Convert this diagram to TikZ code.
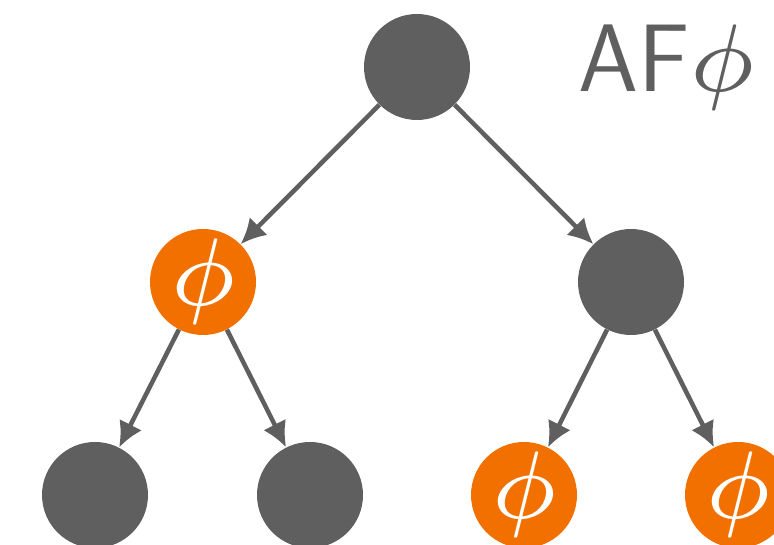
\documentclass[tikz,border=0pt]{standalone}
\DeclareFontShape{OML}{cmm}{m}{it}{<->cmmi7}{\skewchar\font'177}
\usetikzlibrary{arrows.meta}
\definecolor{ink}{HTML}{5F5F5F}
\definecolor{mark}{HTML}{F27000}
\tikzset{
  >={Latex[length=19pt,width=19pt]},
  plain/.style={circle,fill=ink,minimum size=79.5pt,inner sep=0pt},
  phinode/.style={plain,fill=mark},
  phitext/.style={text=white,inner sep=0pt,font=\fontsize{72}{72}\selectfont},
  arrow/.style={->,line width=3.4pt,draw=ink},
}
\begin{document}
\begin{tikzpicture}[x=0.75pt,y=0.75pt]
\useasboundingbox (0,0) rectangle (774,545);
\clip (0,0) rectangle (774,545);

% tree
\node[plain] (root) at (417,478) {};
\node[phinode,label={[phitext]center:$\phi$}] (left) at (203,263) {};
\node[plain] (right) at (631,263) {};
\node[plain] (ll) at (95,50) {};
\node[plain] (lr) at (310,50) {};
\node[phinode,label={[phitext]center:$\phi$}] (rl) at (524,50) {};
\node[phinode,label={[phitext]center:$\phi$}] (rr) at (738,50) {};

\draw[arrow] (root) -- (left);
\draw[arrow] (root) -- (right);
\draw[arrow] (left) -- (ll);
\draw[arrow] (left) -- (lr);
\draw[arrow] (right) -- (rl);
\draw[arrow] (right) -- (rr);

% formula
\node[text=ink,font=\fontsize{72}{72}\selectfont\sffamily,anchor=base east,inner sep=0pt] (formula) at (756,453) {AF$\phi$};

\end{tikzpicture}
\end{document}
